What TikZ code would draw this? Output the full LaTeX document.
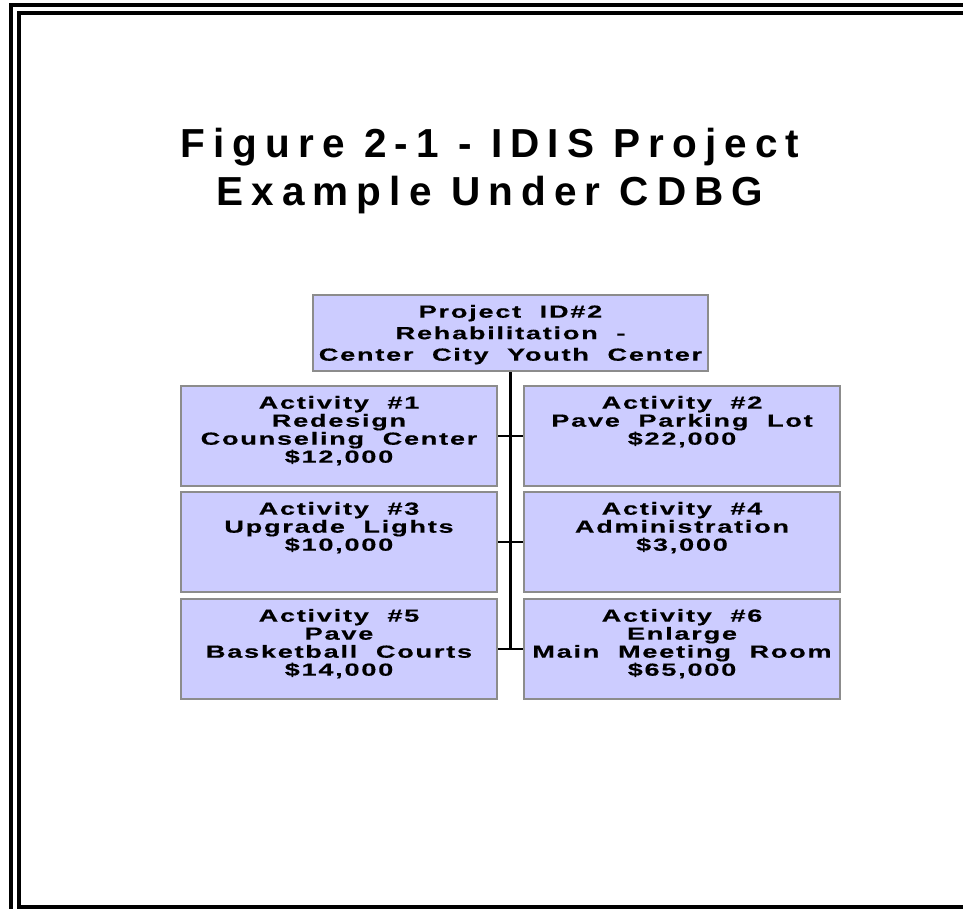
\documentclass[tikz,border=0pt]{standalone}
\usepackage{fontspec}
\usepackage{xcolor}
\usepackage{tikz}

\newfontfamily\titlefont{Liberation Sans}[LetterSpace=20]
\newfontfamily\boxfont{Liberation Sans}[FakeStretch=1.55,FakeBold=0.4,LetterSpace=10,WordSpace=2]

\definecolor{boxfill}{HTML}{CCCCFF}
\definecolor{boxline}{HTML}{8C8C8C}

\tikzset{
  frameline/.style={line width=4pt},
  projbox/.style={draw=boxline, line width=2.5pt, fill=boxfill, minimum width=395pt, minimum height=76pt,
    inner xsep=0pt, inner ysep=10pt, font=\boxfont\bfseries\fontsize{17.5}{21.5}\selectfont},
  actbox/.style={draw=boxline, line width=2.5pt, fill=boxfill, minimum width=316pt, minimum height=100pt,
    inner xsep=0pt, inner ysep=10pt, font=\boxfont\bfseries\fontsize{17.5}{18}\selectfont},
  trunk/.style={line width=3pt},
  branch/.style={line width=2pt}
}
% box texts hang from the top of their boxes
\newcommand{\projtext}[1]{\parbox[t][56pt][t]{395pt}{\centering #1}}
\newcommand{\acttext}[1]{\parbox[t][80pt][t]{316pt}{\centering #1}}

\begin{document}
\begin{tikzpicture}[x=1pt,y=-1pt]
    \useasboundingbox (0,0) rectangle (963,909);

    % Double frame, running off the page on the right
    \begin{scope}
        \clip (0,0) rectangle (963,909);
        \draw[frameline] (11,930) -- (11,5) -- (990,5);
        \draw[frameline] (990,13) -- (19,13) -- (19,907) -- (990,907);
    \end{scope}

    % Title
    \node[font=\titlefont\bfseries\fontsize{40.5}{48}\selectfont, align=center, anchor=north, inner sep=0pt]
        (title) at (490,128) {Figure 2-1 - IDIS Project\\Example Under CDBG};

    % Project box
    \node[projbox] (proj) at (510.5,333) {\projtext{Project ID\#2\\Rehabilitation -\\Center City Youth Center}};

    % Activities
    \node[actbox] (act1) at (339,436) {\acttext{Activity \#1\\Redesign\\Counseling Center\\\$12,000}};
    \node[actbox] (act2) at (682,436) {\acttext{Activity \#2\\Pave Parking Lot\\\$22,000}};
    \node[actbox] (act3) at (339,542) {\acttext{Activity \#3\\Upgrade Lights\\\$10,000}};
    \node[actbox] (act4) at (682,542) {\acttext{Activity \#4\\Administration\\\$3,000}};
    \node[actbox] (act5) at (339,649) {\acttext{Activity \#5\\Pave\\Basketball Courts\\\$14,000}};
    \node[actbox] (act6) at (682,649) {\acttext{Activity \#6\\Enlarge\\Main Meeting Room\\\$65,000}};

    % Connectors
    \coordinate (trunkend) at (proj.south |- act5.east);
    \draw[trunk] (proj.south) -- (trunkend);
    \draw[branch] (act1.east) -- (act2.west);
    \draw[branch] (act3.east) -- (act4.west);
    \draw[branch] (act5.east) -- (act6.west);
\end{tikzpicture}
\end{document}
